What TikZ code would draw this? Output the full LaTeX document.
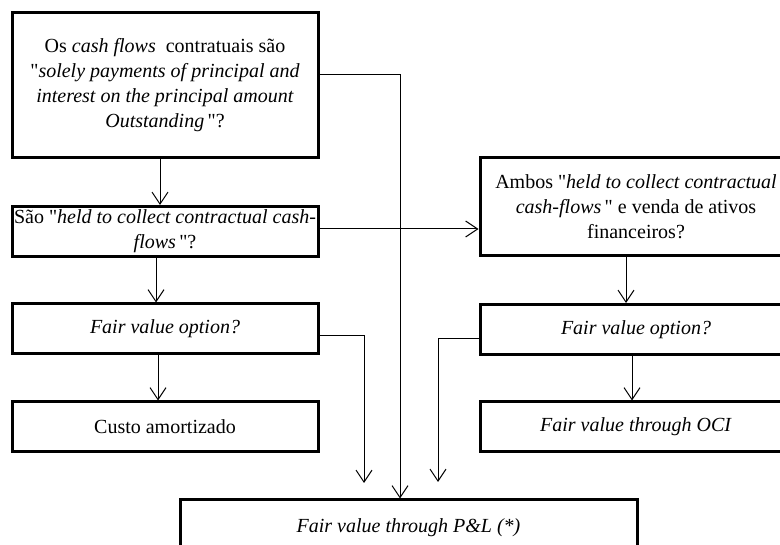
\documentclass[tikz,border=0pt]{standalone}
\usepackage{fontspec}
\newfontfamily\boxfont{Liberation Serif}
\usetikzlibrary{arrows.meta,positioning}

\begin{document}
\begin{tikzpicture}[x=1pt,y=-1pt,>={Straight Barb[length=12pt,width=16pt]},
  every node/.style={font=\boxfont\fontsize{20}{25}\selectfont},
  qbox/.style={draw,line width=3pt,inner sep=0pt,align=center,minimum width=306pt,minimum height=50pt},
  link/.style={->,line width=1pt}]
\useasboundingbox (0,0) rectangle (780,545);
% left column
\node[qbox,minimum height=145pt] (spp) at (165,85.5) {Os \textit{cash flows}\ \ contratuais são\\"\textit{solely payments of principal and}\\\textit{interest on the principal amount}\\\textit{Outstanding}\,"?};
\node[qbox] (hold) at (165,231.5) {São "\textit{held to collect contractual cash-}\\\textit{flows}\,"?};
\node[qbox] (fvoL) at (165,329) {\textit{Fair value option?}};
\node[qbox] (amort) at (165,427) {Custo amortizado};
% right column
\node[qbox,minimum width=312pt,minimum height=98pt] (both) at (636,207) {Ambos "\textit{held to collect contractual}\\\textit{cash-flows}\," e venda de ativos\\financeiros?};
\node[qbox,minimum width=312pt] (fvoR) at (636,329.5) {\textit{Fair value option?}};
\node[qbox,minimum width=312pt] (oci) at (636,427) {\textit{Fair value through OCI}};
% bottom
\node[qbox,minimum width=457pt,minimum height=55pt] (pl) at (408.5,527.5) {\textit{Fair value through P\&L (*)}};
\coordinate (endL) at (364,483);
\coordinate (endR) at (438,482);
\draw[link] ([xshift=-5pt]spp.south) -- ([xshift=-5pt]spp.south |- hold.north);
\draw[link] ([xshift=-9pt]hold.south) -- ([xshift=-9pt]hold.south |- fvoL.north);
\draw[link] ([xshift=-7pt]fvoL.south) -- ([xshift=-7pt]fvoL.south |- amort.north);
\draw[link] ([yshift=10.5pt]spp.east) -| ([xshift=-8.5pt]pl.north);
\draw[link] ([yshift=2.5pt]hold.east) -- ([yshift=2.5pt]hold.east -| both.west);
\draw[link] ([xshift=-10pt]both.south) -- ([xshift=-10pt]both.south |- fvoR.north);
\draw[link] ([xshift=-4pt]fvoR.south) -- ([xshift=-4pt]fvoR.south |- oci.north);
\draw[link] ([yshift=-7pt]fvoL.east) -| (endL);
\draw[link] ([yshift=-9.5pt]fvoR.west) -| (endR);
\end{tikzpicture}
\end{document}
